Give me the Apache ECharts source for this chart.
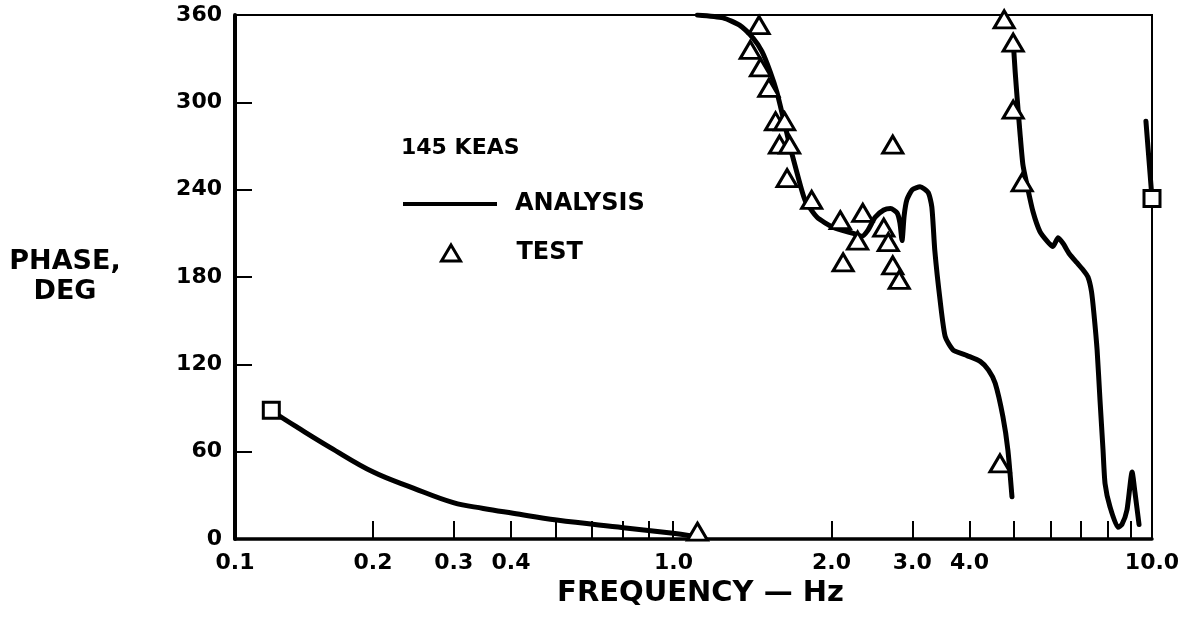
<!DOCTYPE html>
<html>
<head>
<meta charset="utf-8">
<script src="https://cdn.jsdelivr.net/npm/echarts@6/dist/echarts.min.js"></script>
<style>
  html, body { margin: 0; padding: 0; background: #fff; }
  #chart { width: 1187px; height: 619px; }
</style>
</head>
<body>
<div id="chart"></div>
<script>
const FONT = 'DejaVu Sans';

// Frequency axis: minor tick marks and labelled frequencies (Hz)
const minorTicks = [0.2, 0.3, 0.4, 0.5, 0.6, 0.7, 0.8, 0.9, 2, 3, 4, 5, 6, 7, 8, 9];
const labelFreqs = [0.1, 0.2, 0.3, 0.4, 1, 2, 3, 4, 10];
const labelTexts = ['0.1', '0.2', '0.3', '0.4', '1.0', '2.0', '3.0', '4.0', '10.0'];

// Analysis, low-frequency branch
const lowFreq  = [0.12, 0.1243, 0.1363, 0.1611, 0.2003, 0.2448, 0.2993, 0.348, 0.404, 0.503, 0.703, 0.903, 0.983];
const lowPhase = [88.5, 85, 77, 63, 46, 35, 25, 21, 17.7, 13, 7.8, 3.9, 2.3];

// Analysis, first wrapped branch (1 to 5 Hz)
const midFreq  = [1.02, 1.16, 1.26, 1.35, 1.41, 1.47, 1.52, 1.57, 1.62, 1.68, 1.75, 1.86, 2.02, 2.23, 2.33, 2.40,
                  2.49, 2.60, 2.69, 2.78, 2.82, 2.85, 2.88, 2.92, 3.00, 3.12, 3.25, 3.31, 3.36, 3.45, 3.54, 3.68,
                  3.95, 4.22, 4.40, 4.55, 4.73, 4.85, 4.95];
const midPhase = [360, 358, 353, 344, 335, 321, 307, 289, 271, 252, 233, 221, 214, 210, 208, 212,
                  221, 226, 227, 224, 217, 205, 222, 233, 240, 242, 238, 228, 198, 164, 139, 130,
                  126, 122, 116, 107, 84, 61, 29];

// Analysis, second wrapped branch (5 to 9.4 Hz)
const highFreq  = [4.99, 5.03, 5.08, 5.15, 5.23, 5.34, 5.50, 5.70, 5.93, 6.08, 6.24, 6.40, 6.60, 6.85,
                   7.07, 7.25, 7.38, 7.47, 7.59, 7.70, 7.82, 7.90, 8.10, 8.43, 8.60, 8.82, 9.05, 9.18, 9.37];
const highPhase = [338, 321, 303, 280, 257, 243, 225, 211, 204, 201, 207, 203, 196, 190,
                   185, 180, 170, 155, 130, 96, 61, 38, 22, 8, 10, 20, 46, 32, 10];

// Analysis, short branch ending at 10 Hz
const edgeFreq  = [9.70, 10.0];
const edgePhase = [287, 234];

// Test measurements
const testFreq  = [1.39, 1.33, 1.40, 1.46, 1.51, 1.58, 1.54, 1.62, 1.60, 1.81, 2.09, 2.34, 2.28,
                   2.12, 2.60, 2.66, 2.72, 2.81, 2.72, 4.76, 4.98, 4.98, 5.21, 4.66, 1.02];
const testPhase = [353, 336, 324, 310, 287, 287, 271, 271, 248, 233, 219, 224, 205,
                   190, 214, 204, 188, 178, 271, 357, 341, 295, 245, 52, 5];

// Square markers at the ends of the analysed range
const endFreq  = [0.12, 10.0];
const endPhase = [88.5, 234];

const pairs = (xs, ys) => xs.map((x, i) => [x, ys[i]]);

const boldText = { color: '#000', fontFamily: FONT, fontWeight: 'bold' };
const curveStyle = { color: '#000', width: 5, cap: 'round', join: 'round' };
const openMarker = { color: '#fff', borderColor: '#000', borderWidth: 3, opacity: 1 };

function analysisSeries(xs, ys, smooth) {
  return {
    name: 'ANALYSIS', type: 'line', data: pairs(xs, ys),
    symbol: 'none', smooth: smooth, lineStyle: curveStyle,
    itemStyle: { color: '#000' }, z: 2
  };
}

const chart = echarts.init(document.getElementById('chart'), null, { renderer: 'canvas' });

chart.setOption({
  animation: false,
  backgroundColor: '#fff',
  title: {
    text: '145 KEAS', left: 401, top: 137, padding: 0,
    textStyle: Object.assign({ fontSize: 22 }, boldText)
  },
  legend: [
    {
      data: ['ANALYSIS'], left: 403, top: 192, padding: 0, selectedMode: false,
      icon: 'rect', itemWidth: 94, itemHeight: 4,
      itemStyle: { color: '#000', borderWidth: 0 },
      formatter: '{t|{name}}',
      textStyle: { rich: { t: Object.assign({ fontSize: 24, lineHeight: 26, padding: [0, 0, 0, 13] }, boldText) } }
    },
    {
      data: ['TEST'], left: 440, top: 241, padding: 0, selectedMode: false,
      icon: 'triangle', itemWidth: 19, itemHeight: 16,
      itemStyle: { color: '#fff', borderColor: '#000', borderWidth: 3 },
      formatter: '{t|{name}}',
      textStyle: { rich: { t: Object.assign({ fontSize: 24, lineHeight: 26, padding: [0, 0, 0, 51] }, boldText) } }
    }
  ],
  grid: {
    left: 235, right: 35, top: 15, bottom: 80,
    show: true, borderColor: '#000', borderWidth: 2, backgroundColor: 'transparent'
  },
  xAxis: {
    type: 'log', logBase: 10, min: 0.1, max: 10,
    name: 'FREQUENCY \u2014 Hz', nameLocation: 'middle', nameGap: 38,
    nameTextStyle: Object.assign({ fontSize: 29, padding: [0, 0, 0, 14] }, boldText),
    axisLine: { show: true, onZero: false, lineStyle: { color: '#000', width: 3.5 } },
    axisTick: { show: true, inside: true, length: 18, customValues: minorTicks,
                lineStyle: { color: '#000', width: 2 } },
    axisLabel: {
      customValues: labelFreqs, margin: 13,
      fontSize: 22, color: '#000', fontFamily: FONT, fontWeight: 'bold',
      formatter: function (v) {
        const i = labelFreqs.findIndex(f => Math.abs(f - v) < 1e-6 * Math.max(1, f));
        const txt = i >= 0 ? labelTexts[i] : '';
        return txt === '1.0' ? '{shift|' + txt + '}' : txt;
      },
      rich: { shift: Object.assign({ fontSize: 22, padding: [0, 40, 0, 0] }, boldText) }
    },
    splitLine: { show: false },
    minorTick: { show: false }
  },
  yAxis: {
    type: 'value', min: 0, max: 360, interval: 60,
    name: 'PHASE,\nDEG', nameLocation: 'middle', nameRotate: 0, nameGap: 170,
    nameTextStyle: Object.assign({ fontSize: 27, lineHeight: 30, align: 'center', padding: [16, 0, 0, 0] }, boldText),
    axisLine: { show: true, lineStyle: { color: '#000', width: 4 } },
    axisTick: { show: true, inside: true, length: 17, lineStyle: { color: '#000', width: 2 } },
    axisLabel: Object.assign({ fontSize: 22, margin: 13 }, boldText),
    splitLine: { show: false }
  },
  series: [
    analysisSeries(lowFreq, lowPhase, 0.4),
    analysisSeries(midFreq, midPhase, 0.2),
    analysisSeries(highFreq, highPhase, 0.2),
    analysisSeries(edgeFreq, edgePhase, false),
    {
      name: 'TEST', type: 'scatter', data: pairs(testFreq, testPhase),
      symbol: 'triangle', symbolSize: [20, 17], itemStyle: openMarker, z: 4
    },
    {
      name: 'ENDS', type: 'scatter', data: pairs(endFreq, endPhase),
      symbol: 'rect', symbolSize: 16, itemStyle: openMarker, z: 4
    }
  ]
});
</script>
</body>
</html>
